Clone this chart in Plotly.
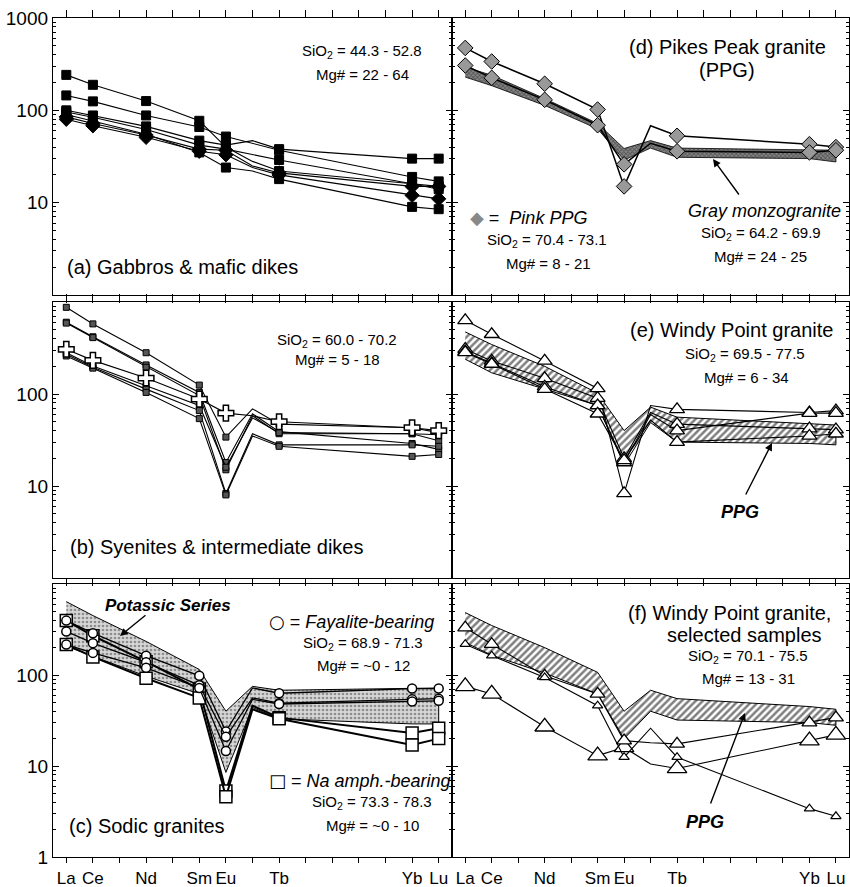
import plotly.graph_objects as go

W, H = 850, 887
FONT = "Liberation Sans, Arial, DejaVu Sans, sans-serif"

# ---------------- data ----------------
ELEMENTS = ['La', 'Ce', 'Nd', 'Sm', 'Eu', 'Gd', 'Tb', 'Yb', 'Lu']
ATOMIC_NUMBER = [57, 58, 60, 62, 63, 64, 65, 70, 71]
TICK_POSITIONS = list(range(57, 72))
TICK_LABELS = ['La', 'Ce', '', 'Nd', '', 'Sm', 'Eu', '', 'Tb', '', '', '', '', 'Yb', 'Lu']

# (a) Gabbros & mafic dikes
gabbro_sq_1 = [242, 189, 126, 77, 40, 28, 22, 16, 14]
gabbro_sq_2 = [145, 125, 88, 66, 52, 44, 37, 19, 17]
gabbro_sq_3 = [100, 88, 67, 47, 42, 47, 38, 30, 30]
gabbro_sq_4 = [96, 84, 62, 42, 38, 33, 29, 16, 15]
gabbro_sq_5 = [90, 76, 55, 35, 24, 22, 18, 9, 8.5]
gabbro_dia_1 = [85, 72, 54, 38, 37, 25, 21, 15, 15]
gabbro_dia_2 = [80, 68, 51, 36, 33, 24, 20, 12, 11]

# (b) Syenites & intermediate dikes
syenite_sq_1 = [875, 578, 281, 125, 34, 69, 47, 43, 38]
syenite_sq_2 = [603, 419, 207, 104, 18, 61, 39, 29, 25]
syenite_sq_3 = [590, 410, 195, 96, 15, 58, 37, 37, 31]
syenite_cross = [306, 232, 149, 88, 62, 58, 50, 43, 40]
syenite_sq_4 = [281, 202, 123, 75, 16, 55, 38, 37, 36]
syenite_sq_5 = [270, 195, 113, 66, 8.3, 37, 28, 28, 27]
syenite_sq_6 = [259, 191, 104, 54, 8, 35, 27, 21, 22]

# (c) Sodic granites
potassic_upper = [640, 450, 234, 115, 40, 75, 68, 72, 72]
potassic_lower = [207, 160, 97, 62, 8.5, 44, 33, 29, 29]
fayalite_1 = [396, 288, 163, 98, 24, 72, 63, 71, 71]
fayalite_2 = [301, 224, 138, 77, 21, 56, 49, 54, 55]
fayalite_3 = [216, 175, 120, 72, 14.6, 54, 48, 51, 52]
na_amph_1 = [396, 270, 140, 70, 5.3, 46, 34, 23, 26]
na_amph_2 = [216, 158, 92, 56, 4.6, 42, 33, 17, 20]

# (d) Pikes Peak granite
gray_monzo_upper = [294, 240, 134, 72, 38.6, 47, 39, 37, 37]
gray_monzo_lower = [229, 185, 113, 63, 28.9, 39, 31, 30, 27.6]
pink_ppg_1 = [474, 338, 194, 102, 15, 68, 53, 43, 40]
pink_ppg_2 = [306, 225, 130, 69, 26, 44, 36, 35, 37]

# (e) Windy Point granite
ppg_upper_e = [473, 345, 200, 102, 40, 72, 56, 48, 46]
ppg_lower_e = [239, 170, 113, 75, 17, 49, 30, 29, 28]
windy_1 = [632, 446, 229, 115, 8.3, 75, 68, 63, 66]
windy_2 = [307, 229, 148, 90, 20, 63, 47, 42, 41]
windy_3 = [290, 215, 120, 75, 18, 60, 40, 62, 62]
windy_4 = [283, 212, 113, 61, 19, 52, 30, 35, 37]

# (f) Windy Point granite, selected samples
ppg_upper_f = [485, 350, 200, 107, 40, 68, 55, 45, 42]
ppg_lower_f = [228, 165, 105, 62, 20, 40, 32, 30, 28]
windy_sel_large = [75, 62, 27, 13, 16, 10.5, 9.4, 19, 22]
windy_sel_medium = [332, 218, 98, 62, 19, 18, 17.5, 30, 34]
windy_sel_small = [218, 163, 94, 46, 12.5, 26, 12.5, 3.4, 2.8]

# ---------------- figure ----------------
fig = go.Figure()

MARK_OPACITY = [0 if e == 'Gd' else 1 for e in ELEMENTS]
PANEL_AXES = {'a': ('x', 'y'), 'b': ('x2', 'y2'), 'c': ('x3', 'y3'),
              'd': ('x4', 'y4'), 'e': ('x5', 'y5'), 'f': ('x6', 'y6')}


def series(panel, values, symbol, size, fill='black', edge='black', lw=1.1, ew=1):
    xa, ya = PANEL_AXES[panel]
    fig.add_trace(go.Scatter(
        x=ATOMIC_NUMBER, y=values, mode='lines+markers', xaxis=xa, yaxis=ya,
        line=dict(color='black', width=lw),
        marker=dict(symbol=symbol, size=size, color=fill, opacity=MARK_OPACITY,
                    line=dict(color=edge, width=ew)),
        showlegend=False, hoverinfo='skip'))


def band(panel, upper, lower, pattern, lw=1):
    xa, ya = PANEL_AXES[panel]
    fig.add_trace(go.Scatter(
        x=ATOMIC_NUMBER + ATOMIC_NUMBER[::-1], y=upper + lower[::-1],
        mode='lines', fill='toself', xaxis=xa, yaxis=ya,
        line=dict(color='black', width=lw), fillcolor=pattern.get('bgcolor', 'white'),
        fillpattern=pattern, showlegend=False, hoverinfo='skip'))


# (a)
for v in [gabbro_sq_1, gabbro_sq_2, gabbro_sq_3, gabbro_sq_4, gabbro_sq_5]:
    series('a', v, 'square', 9)
for v in [gabbro_dia_1, gabbro_dia_2]:
    series('a', v, 'diamond', 11)

# (b)
for v in [syenite_sq_1, syenite_sq_2, syenite_sq_3, syenite_sq_4, syenite_sq_5, syenite_sq_6]:
    series('b', v, 'square', 6, fill='#555')
series('b', syenite_cross, 'cross', 13, fill='white', ew=1.5)

# (c)
band('c', potassic_upper, potassic_lower,
     dict(shape='.', fgcolor='#444', bgcolor='#d6d6d6', size=4, solidity=0.35))
for v in [na_amph_1, na_amph_2]:
    series('c', v, 'square', 12, fill='white', lw=2, ew=1.5)
for v in [fayalite_1, fayalite_2, fayalite_3]:
    series('c', v, 'circle', 9, fill='white', lw=1.3, ew=1.5)

# (d)
band('d', gray_monzo_upper, gray_monzo_lower,
     dict(shape='x', fgcolor='#222', bgcolor='#888', size=3, solidity=0.5), lw=0.8)
for v in [pink_ppg_1, pink_ppg_2]:
    series('d', v, 'diamond', 12, fill='#999', lw=1.5, ew=1)

# (e)
band('e', ppg_upper_e, ppg_lower_e,
     dict(shape='/', fgcolor='black', bgcolor='white', size=5, solidity=0.5))
for v in [windy_1, windy_2, windy_3, windy_4]:
    series('e', v, 'triangle-up', 13, fill='white', ew=1.3)

# (f)
band('f', ppg_upper_f, ppg_lower_f,
     dict(shape='/', fgcolor='black', bgcolor='white', size=5, solidity=0.5))
series('f', windy_sel_large, 'triangle-up', 17, fill='white', ew=1.3)
series('f', windy_sel_medium, 'triangle-up', 13, fill='white', ew=1.3)
series('f', windy_sel_small, 'triangle-up', 9, fill='white', ew=1.2)

# ---------------- axes ----------------
X_LEFT = [53 / W, 452 / W]
X_RIGHT = [452 / W, 0.999]
ROWS = {'a': (18, 295), 'b': (302, 578), 'c': (584, 857)}


def ydom(top, bottom):
    return [1 - bottom / H, 1 - top / H]


MINOR = [m * 10 ** d for d in range(0, 3) for m in range(2, 10)]
Y_LABELS = {'a': ['', '10', '100', '1000'], 'b': ['', '10', '100', ''], 'c': ['1', '10', '100', '']}

layout = dict(width=W, height=H, margin=dict(l=0, r=0, t=0, b=0, autoexpand=False),
              paper_bgcolor='white', plot_bgcolor='white', showlegend=False,
              font=dict(family=FONT, color='black'))

for i, p in enumerate(['a', 'b', 'c', 'd', 'e', 'f']):
    row = {'a': 'a', 'b': 'b', 'c': 'c', 'd': 'a', 'e': 'b', 'f': 'c'}[p]
    left = p in 'abc'
    bottom = row == 'c'
    suffix = '' if i == 0 else str(i + 1)
    layout['xaxis' + suffix] = dict(
        domain=X_LEFT if left else X_RIGHT, range=[56.5, 71.5], anchor='y' + suffix,
        tickmode='array', tickvals=TICK_POSITIONS, ticktext=TICK_LABELS,
        ticks='outside', ticklen=5 if bottom else 7, tickwidth=1.2, tickcolor='black',
        showticklabels=bottom, tickfont=dict(size=17, family=FONT), tickangle=0,
        automargin=False,
        showline=True, linecolor='black', linewidth=1.3, mirror='ticks',
        showgrid=False, zeroline=False)
    layout['yaxis' + suffix] = dict(
        domain=ydom(*ROWS[row]), type='log', range=[0, 3], anchor='x' + suffix,
        tickmode='array', tickvals=[1, 10, 100, 1000],
        ticktext=Y_LABELS[p] if left else ['', '', '', ''],
        showticklabels=left, tickfont=dict(size=19, family=FONT), automargin=False,
        ticks='inside', ticklen=6, tickwidth=1.2, tickcolor='black',
        minor=dict(tickmode='array', tickvals=MINOR, ticks='inside', ticklen=3,
                   tickwidth=1, tickcolor='black', showgrid=False),
        showline=True, linecolor='black', linewidth=1.3, mirror='ticks',
        showgrid=False, zeroline=False)

fig.update_layout(**layout)


# ---------------- text ----------------
def text(x, y, s, size=15, anchor='center'):
    fig.add_annotation(x=x / W, y=1 - y / H, xref='paper', yref='paper', text=s,
                       showarrow=False, xanchor=anchor, yanchor='middle',
                       font=dict(size=size, family=FONT, color='black'))


def arrow(x0, y0, x1, y1):
    fig.add_annotation(x=x1 / W, y=1 - y1 / H, ax=x0 - x1, ay=y0 - y1,
                       xref='paper', yref='paper', axref='pixel', ayref='pixel',
                       text='', showarrow=True, arrowhead=2, arrowsize=1.1,
                       arrowwidth=1.4, arrowcolor='black')


# (a)
text(362, 52, 'SiO<sub>2</sub> = 44.3 - 52.8')
text(362, 74, 'Mg# = 22 - 64')
text(65, 267, '(a) Gabbros &amp; mafic dikes', 20, 'left')
# (b)
text(337, 340, 'SiO<sub>2</sub> = 60.0 - 70.2')
text(337, 360, 'Mg# = 5 - 18')
text(68, 547, '(b) Syenites &amp; intermediate dikes', 20, 'left')
# (c)
text(168, 605, '<b><i>Potassic Series</i></b>', 17)
arrow(147, 614, 120, 636)
text(267, 621, '<span style="font-family:DejaVu Sans">○</span> = <i>Fayalite-bearing</i>', 18, 'left')
text(363, 643, 'SiO<sub>2</sub> = 68.9 - 71.3')
text(363, 665, 'Mg# = ~0 - 12')
text(267, 780, '<span style="font-family:DejaVu Sans">□</span> = <i>Na amph.-bearing</i>', 18, 'left')
text(372, 802, 'SiO<sub>2</sub> = 73.3 - 78.3')
text(372, 825, 'Mg# = ~0 - 10')
text(67, 826, '(c) Sodic granites', 20, 'left')
# (d)
text(727, 47, '(d) Pikes Peak granite', 20)
text(727, 70, '(PPG)', 20)
text(468, 217, '<span style="font-family:DejaVu Sans;color:#888">◆</span> =  <i>Pink PPG</i>', 18, 'left')
text(547, 240, 'SiO<sub>2</sub> = 70.4 - 73.1')
text(548, 263, 'Mg# = 8 - 21')
text(764, 211, '<i>Gray monzogranite</i>', 18)
text(761, 233, 'SiO<sub>2</sub> = 64.2 - 69.9')
text(760, 256, 'Mg# = 24 - 25')
arrow(740, 196, 713, 159)
# (e)
text(731, 330, '(e) Windy Point granite', 20)
text(745, 355, 'SiO<sub>2</sub> = 69.5 - 77.5')
text(746, 377, 'Mg# = 6 - 34')
text(740, 512, '<b><i>PPG</i></b>', 18)
arrow(745, 496, 772, 443)
# (f)
text(729, 613, '(f) Windy Point granite,', 20)
text(744, 635, 'selected samples', 20)
text(748, 656, 'SiO<sub>2</sub> = 70.1 - 75.5')
text(748, 678, 'Mg# = 13 - 31')
text(705, 822, '<b><i>PPG</i></b>', 18)
arrow(710, 805, 745, 713)

fig.write_html("out.html", config={'displayModeBar': False},
               post_script="document.body.style.margin='0';document.body.style.overflow='hidden';")
